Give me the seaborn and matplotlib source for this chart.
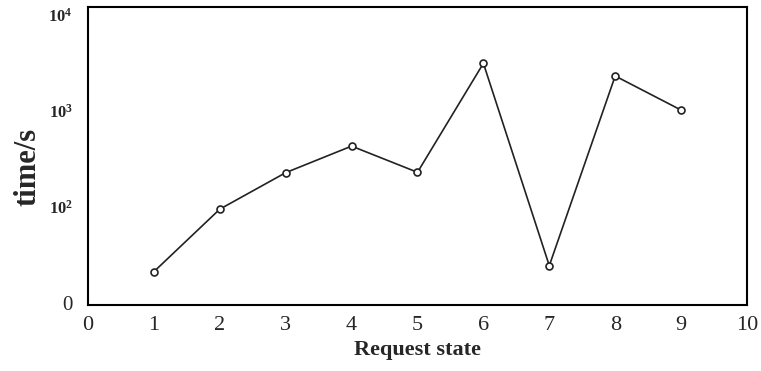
import matplotlib
matplotlib.use("Agg")
import matplotlib.pyplot as plt
import seaborn as sns
import pandas as pd

states = [1, 2, 3, 4, 5, 6, 7, 8, 9]
times = [21.2, 95, 228, 431, 230, 3140, 24.5, 2317, 1023]
x_ticks = list(range(0, 11))
y_ticks = [10, 100, 1000, 10000]
y_tick_labels = ["0", r"$\mathbf{10^2}$", r"$\mathbf{10^3}$", r"$\mathbf{10^4}$"]

sns.set_style("white")
plt.rcParams["font.family"] = ["Liberation Serif", "DejaVu Serif"]
plt.rcParams["mathtext.fontset"] = "custom"
plt.rcParams["mathtext.rm"] = "Liberation Serif"
plt.rcParams["mathtext.bf"] = "Liberation Serif:bold"

df = pd.DataFrame({"state": states, "time": times})

fig = plt.figure(figsize=(7.61, 3.71), dpi=100)
ax = fig.add_axes([0.1156, 0.178, 0.866, 0.803])
sns.lineplot(data=df, x="state", y="time", ax=ax, color="#222222", linewidth=1.2,
             marker="o", markersize=5, markerfacecolor="white",
             markeredgecolor="#222222", markeredgewidth=1.2)
ax.set_yscale("log")
ax.set_xlim(0, 10)
ax.set_ylim(10 ** 0.98, 10 ** 4.083)
ax.set_xticks(x_ticks)
ax.set_xticklabels([str(t) for t in x_ticks], fontsize=16)
ax.set_yticks(y_ticks)
ax.set_yticklabels(y_tick_labels)
ax.minorticks_off()
for i, lab in enumerate(ax.get_yticklabels()):
    if i == 0:
        lab.set_fontsize(15)
    else:
        lab.set_fontsize(12)
        lab.set_fontweight("bold")
ax.tick_params(axis="x", length=0, pad=8)
ax.tick_params(axis="y", length=0, pad=11)
for s in ax.spines.values():
    s.set_color("black")
    s.set_linewidth(1.5)
ax.set_xlabel("Request state", fontsize=16, fontweight="bold", va="center")
ax.xaxis.set_label_coords(0.5, -0.15)
ax.set_ylabel("time/s", fontsize=22, fontweight="bold", va="center")
ax.yaxis.set_label_coords(-0.0915, 0.463)
fig.savefig("out.png", dpi=100)
